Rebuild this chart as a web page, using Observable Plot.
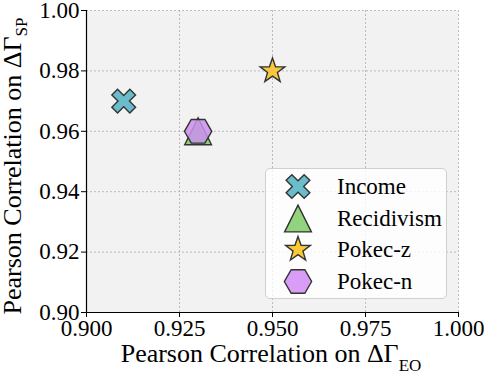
<!DOCTYPE html>
<html><head><meta charset="utf-8">
<script src="https://cdn.jsdelivr.net/npm/d3@7"></script>
<script src="https://cdn.jsdelivr.net/npm/@observablehq/plot@0.6"></script>
<style>
body{margin:0;background:#fff;font-family:'Liberation Serif',serif;}
#wrap{position:relative;width:488px;height:376px;}
#legend{position:absolute;left:265px;top:168px;width:182px;height:131px;background:rgba(255,255,255,0.8);border:1px solid #d0d0d0;border-radius:5px;box-sizing:border-box;padding-top:2px;}
.row{display:flex;align-items:center;height:31.6px;}
.row svg{margin-left:15px;width:34px;height:31px;}
.row span{margin-left:22px;font-size:23px;color:#000;line-height:1;}
#dbg{position:absolute;left:0;top:0;font:10px monospace;color:red;visibility:hidden;}
</style></head><body><div id="wrap"></div>
<script>
const datasets = ["Income", "Recidivism", "Pokec-z", "Pokec-n"];
const eoCorr = [0.91, 0.93, 0.95, 0.93];
const spCorr = [0.97, 0.96, 0.98, 0.96];
const plotColors = ["#6bbccb", "#8ed07c", "#f7c83e", "#cd90ee"];
const legendColors = ["#6bbdcc", "#92d47e", "#fbc838", "#d99cf7"];
const xTicks = [0.900, 0.925, 0.950, 0.975, 1.000];
const yTicks = [0.90, 0.92, 0.94, 0.96, 0.98, 1.00];
const axisTitle = "Pearson Correlation on \u0394\u0393";

const FONT = "Liberation Serif";

const rad = size => Math.sqrt(size / Math.PI);
const symX = {draw(ctx, size){ const r = rad(size), e = r*0.98, w = r*0.31;
  const pts = [[-w,-e],[w,-e],[w,-w],[e,-w],[e,w],[w,w],[w,e],[-w,e],[-w,w],[-e,w],[-e,-w],[-w,-w]]
    .map(([x,y]) => [(x-y)/Math.SQRT2, (x+y)/Math.SQRT2]);
  ctx.moveTo(...pts[0]); pts.slice(1).forEach(p => ctx.lineTo(...p)); ctx.closePath(); }};
const symTri = {draw(ctx, size){ const r = rad(size)*1.03;
  ctx.moveTo(0,-r); ctx.lineTo(r, r); ctx.lineTo(-r, r); ctx.closePath(); }};
const symStar = {draw(ctx, size){ const R = rad(size)*1.0, ri = R*0.4;
  for (let i = 0; i < 10; i++){ const a = -Math.PI/2 + i*Math.PI/5, rr = i%2 ? ri : R;
    const p = [rr*Math.cos(a), rr*Math.sin(a)]; i ? ctx.lineTo(...p) : ctx.moveTo(...p); }
  ctx.closePath(); }};
const symHex = {draw(ctx, size){ const R = rad(size)*1.05;
  for (let i = 0; i < 6; i++){ const a = i*Math.PI/3; const p = [R*Math.cos(a), R*Math.sin(a)];
    i ? ctx.lineTo(...p) : ctx.moveTo(...p); }
  ctx.closePath(); }};
const symbols = [symX, symTri, symStar, symHex];
const opac = [1, 1, 1, 0.85];

const data = datasets.map((name, i) => ({name, eo: eoCorr[i], sp: spCorr[i], i}));
const R = 13;

const plot = Plot.plot({
  width: 488, height: 376,
  marginLeft: 86, marginRight: 30, marginTop: 10, marginBottom: 64,
  style: {fontFamily: FONT, fontSize: "23px", color: "#000", background: "transparent"},
  x: {domain: [0.9, 1.0], label: null},
  y: {domain: [0.9, 1.0], label: null},
  marks: [
    Plot.frame({fill: "#f2f2f2", stroke: null}),
    Plot.gridX(xTicks, {stroke: "#b4b4b4", strokeOpacity: 1, strokeDasharray: "2,2", strokeWidth: 0.9}),
    Plot.gridY(yTicks, {stroke: "#b4b4b4", strokeOpacity: 1, strokeDasharray: "2,2", strokeWidth: 0.9}),
    Plot.axisX(xTicks, {tickFormat: d3.format(".3f"), tickSize: 5, tickPadding: 2, fontSize: 23, label: null}),
    Plot.axisY(yTicks, {tickFormat: d3.format(".2f"), tickSize: 5, tickPadding: 2, fontSize: 23, label: null}),
    Plot.ruleX([0.9], {stroke: "#000", strokeWidth: 1.2}),
    Plot.ruleY([0.9], {stroke: "#000", strokeWidth: 1.2}),
    ...data.map(d => Plot.dot([d], {x: "eo", y: "sp", r: R, symbol: symbols[d.i], fill: plotColors[d.i], fillOpacity: opac[d.i], stroke: "#333", strokeWidth: 1.4}))
  ]
});

const wrap = document.getElementById("wrap");
wrap.appendChild(plot);

const svg = d3.select(plot).attr("font-family", FONT);
const xl = svg.append("text").attr("x", 271).attr("y", 362).attr("text-anchor", "middle")
  .attr("font-size", 26).attr("fill", "#000");
xl.append("tspan").text(axisTitle);
xl.append("tspan").attr("font-size", 17).attr("dy", 9).text("EO");
const yl = svg.append("text").attr("transform", "translate(21,166) rotate(-90)").attr("text-anchor", "middle")
  .attr("font-size", 26).attr("fill", "#000");
yl.append("tspan").text(axisTitle);
yl.append("tspan").attr("font-size", 17).attr("dy", 6).text("SP");
svg.selectAll("text").attr("font-family", FONT);

const leg = document.createElement("div"); leg.id = "legend";
datasets.forEach((name, i) => {
  const row = document.createElement("div"); row.className = "row";
  const s = d3.create("svg").attr("viewBox", "-17 -15.5 34 31");
  s.append("path").attr("d", d3.symbol().type(symbols[i]).size(Math.PI*R*R)())
    .attr("fill", legendColors[i]).attr("stroke", "#333").attr("stroke-width", 1.4);
  row.appendChild(s.node());
  const t = document.createElement("span"); t.textContent = name;
  t.style.fontFamily = "'Liberation Serif'";
  row.appendChild(t);
  leg.appendChild(row);
});
wrap.appendChild(leg);

// force style/layout resolution so the serif face is matched before capture
const dbg = document.createElement("div"); dbg.id = "dbg";
const sp = leg.querySelector("span"); const tx = plot.querySelector("text");
dbg.textContent = getComputedStyle(sp).fontFamily + getComputedStyle(tx).fontFamily + document.fonts.check("23px 'Liberation Serif'");
wrap.appendChild(dbg);
void wrap.offsetHeight;
</script></body></html>
